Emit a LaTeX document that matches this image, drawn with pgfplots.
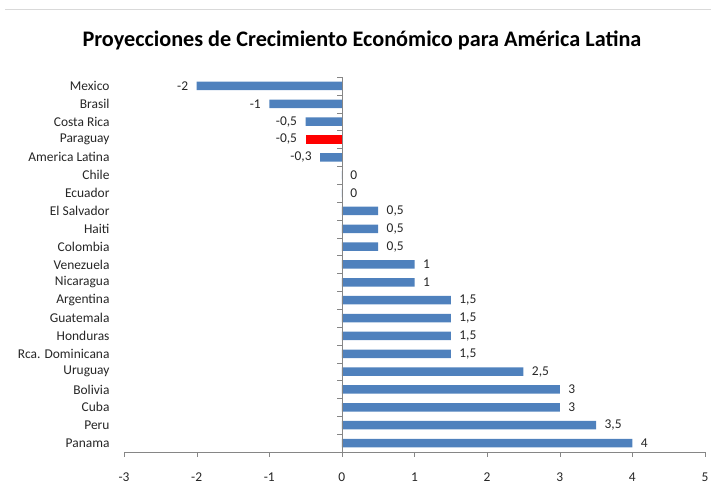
\documentclass[border=0pt]{standalone}
\usepackage{fontspec}
\setmainfont{Carlito}
\usepackage{pgfplots}
\pgfplotsset{compat=1.18}
\definecolor{barblue}{HTML}{4F81BD}
\definecolor{barred}{HTML}{FF0000}
\definecolor{axgray}{HTML}{868686}
\definecolor{txt}{HTML}{262626}
\begin{document}
\begin{tikzpicture}[x=1bp,y=1bp]
\path[use as bounding box] (0,0) rectangle (711,499);
\draw[gray!30, line width=1bp] (5,489) -- (711,489);
\node[font=\fontsize{22.3}{25}\selectfont\bfseries, text=black] at (362,459) {Proyecciones de Crecimiento Económico para América Latina};
\begin{axis}[
  at={(124bp,47bp)}, anchor=south west,
  scale only axis, width=581bp, height=375bp,
  xmin=-3, xmax=5, ymin=-0.5, ymax=20.5,
  axis x line*=bottom, axis y line*=left,
  x axis line style={draw=axgray,-},
  y axis line style={draw=none},
  xtick={-3,...,5},
  tick align=outside,
  major tick length=5bp,
  xtick style={draw=axgray},
  ytick style={draw=none},
  ytick={0,...,20},
  yticklabels={Panama,Peru,Cuba,Bolivia,Uruguay,Rca. Dominicana,Honduras,Guatemala,Argentina,Nicaragua,Venezuela,Colombia,Haiti,El Salvador,Ecuador,Chile,America Latina,Paraguay,Costa Rica,Brasil,Mexico},
  yticklabel style={font=\fontsize{13.5}{15}\selectfont, text=txt, xshift=-6bp},
  xticklabel style={font=\fontsize{13.5}{15}\selectfont, text=txt, yshift=-12bp},
  /pgf/number format/assume math mode=true,
  xbar, bar width=8.5bp, bar shift=0pt,
  point meta=explicit symbolic,
  nodes near coords={\pgfplotspointmeta},
  every node near coord/.append style={font=\fontsize{13.5}{15}\selectfont, text=txt},
  clip=false,
]
% positive and zero values
\addplot[fill=barblue, draw=none, every node near coord/.append style={anchor=west, xshift=5bp}] coordinates {
 (0,15) [0] (0,14) [0]
 (0.5,13) [0,5] (0.5,12) [0,5] (0.5,11) [0,5]
 (1,10) [1] (1,9) [1]
 (1.5,8) [1,5] (1.5,7) [1,5] (1.5,6) [1,5] (1.5,5) [1,5]
 (2.5,4) [2,5] (3,3) [3] (3,2) [3] (3.5,1) [3,5] (4,0) [4]
};
% negative values
\addplot[fill=barblue, draw=none, every node near coord/.append style={anchor=east, xshift=-5bp}] coordinates {
 (-2,20) [-2] (-1,19) [-1] (-0.5,18) [-0,5] (-0.3,16) [-0,3]
};
\addplot[fill=barred, draw=none, every node near coord/.append style={anchor=east, xshift=-5bp}] coordinates {
 (-0.5,17) [-0,5]
};
\draw[axgray] (axis cs:0,-0.5) -- (axis cs:0,20.5);
\pgfplotsinvokeforeach{0,...,21}{
  \draw[axgray] (axis cs:0,#1-0.5) -- ++(-5bp,0bp);
}
\end{axis}
\end{tikzpicture}
\end{document}
